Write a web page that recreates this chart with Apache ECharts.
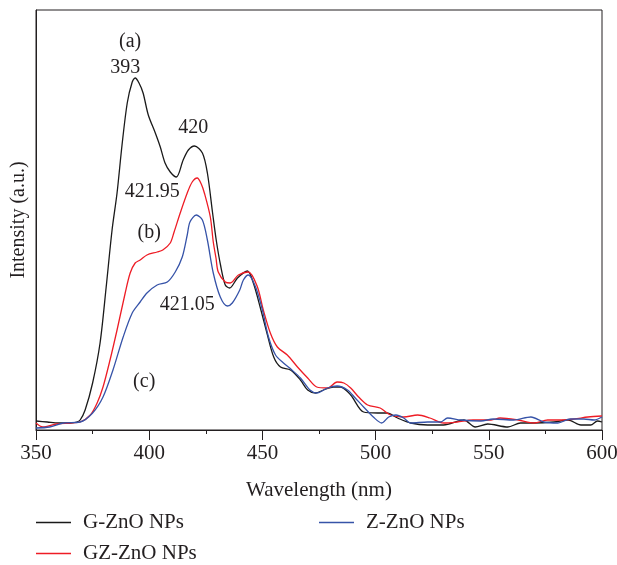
<!DOCTYPE html>
<html>
<head>
<meta charset="utf-8">
<script src="https://cdn.jsdelivr.net/npm/echarts@6/dist/echarts.min.js"></script>
<style>
html,body{margin:0;padding:0;background:#fff;}
#chart{width:617px;height:565px;}
</style>
</head>
<body>
<div id="chart"></div>
<script>
// ---- data ----
const gWave = [350,355,360,365,368,369.5,371.7,375,378.3,381,383.6,385.8,388,390.3,392.5,393.8,395.5,397.3,399.6,402.7,404.9,407,409.3,412,415,417.3,420,423.5,425.7,428,429.6,431.5,433.6,435.5,439,443.4,446,449,452,455,458,462.4,466.8,470,473.5,477,481.4,484.5,489,494.7,500.9,505,509.7,515.5,523,530,539,544,549.5,558.4,564,570,578.8,585,590.7,595,598,600];
const gInt  = [9,8,7,7,8,10,20,47,87,143,200,237,285,327,348,352,347,337,315,297,283,267,258,253,270,280,284,277,257,217,190,165,145,142,152,159,147,123,97,73,63,60,50,40,37,40,43,43,35,18,17,17,12,7,5,5,10,3,6,3,7,7,8,10,5,5,9,8];

const gzWave = [350,353,359,365,369.5,374,377,379.6,382.7,385.8,389.4,391.6,393.8,396,399,403.5,406,409.3,411,413.7,416.8,419,421.2,423,424.5,427,428.3,429.5,430.5,433.6,435.8,439.4,443.8,447.8,450.4,453.5,456.6,461,465.5,470,474,478.8,483,486,489,492.5,496.5,502,506.6,512.4,518.6,524,530,536,543,551,555,563,570,576,582,587.7,593.8,600];
const gzInt  = [7,3,6,7,8,15,27,43,70,100,137,157,167,170,175,178,180,187,198,217,237,248,252,246,236,213,188,172,158,148,147,155,158,143,120,97,83,75,63,52,43,42,48,47,42,33,25,22,15,13,15,12,7,8,10,10,12,10,7,10,10,11,13,14];

const zWave = [350,356,362,369.5,375,379.6,384,388.5,392.5,396,399,403.5,408,411.5,414.6,416.8,418,420.8,423.5,425.7,428.3,431.4,434.5,436.7,440,441.6,443.8,447,450,452.7,455.8,459.3,463,466.8,471,474,478.8,483,487.6,491,494.7,499,502.7,505.8,509,512.4,515.5,523,528.7,531.8,537.6,546.5,552,561,568.6,574.3,580.5,586,592,596.5,600];
const zInt  = [2,3,7,8,17,33,60,93,117,128,137,145,148,158,173,195,208,215,210,190,157,133,124,127,140,150,155,143,120,93,75,67,60,52,40,37,42,44,40,32,23,13,7,13,15,12,7,8,8,12,10,9,11,10,13,8,7,11,11,10,13];

const seriesNames = ['G-ZnO NPs', 'GZ-ZnO NPs', 'Z-ZnO NPs'];
const xTicks = [350, 400, 450, 500, 550, 600];

// annotation texts and their data positions (wavelength, intensity)
const annoText = ['(a)', '393', '420', '421.95', '(b)', '421.05', '(c)'];
const annoWave = [391.6, 389.4, 419.5, 401.3, 400, 416.8, 397.8];
const annoInt  = [388, 362, 302, 238, 197, 125, 48];

// ---- build ----
const zip = (a, b) => a.map((v, i) => [v, b[i]]);
const FONT = 'Liberation Serif';
const TXT = '#231f20';
const colors = ['#1a1a1a', '#ee1c25', '#3653a8'];

const chart = echarts.init(document.getElementById('chart'), null, {renderer: 'canvas'});

const lineSeries = (name, data, color) => ({
  name, type: 'line', data, symbol: 'none', smooth: 0.3,
  lineStyle: {color, width: 1.3}, itemStyle: {color}, z: 3
});

const legendItem = (name, left, top) => ({
  data: [name],
  orient: 'vertical', left, top, padding: 0, itemGap: 0,
  icon: 'rect', itemWidth: 35, itemHeight: 1.5,
  textStyle: {fontFamily: FONT, fontSize: 21, color: TXT, padding: [0, 0, 0, 7]}
});

chart.setOption({
  animation: false,
  backgroundColor: '#fff',
  textStyle: {fontFamily: FONT, color: TXT},
  grid: {left: 36, right: 15, top: 10, bottom: 135, outerBoundsMode: 'none', containLabel: false,
         show: true, borderColor: '#231f20', borderWidth: 1},
  xAxis: {
    type: 'value', min: xTicks[0], max: xTicks[xTicks.length - 1], interval: 50,
    name: 'Wavelength (nm)', nameLocation: 'middle', nameGap: 50,
    nameTextStyle: {fontFamily: FONT, fontSize: 21, color: TXT},
    axisLine: {lineStyle: {color: '#231f20', width: 1}},
    axisTick: {length: 10, lineStyle: {color: '#231f20'}},
    minorTick: {show: true, splitNumber: 2, length: 4, lineStyle: {color: '#231f20'}},
    splitLine: {show: false},
    axisLabel: {fontFamily: FONT, fontSize: 21, color: TXT, margin: 13}
  },
  yAxis: {
    type: 'value', min: 0, max: 420,
    name: 'Intensity (a.u.)', nameLocation: 'middle', nameGap: 7,
    nameTextStyle: {fontFamily: FONT, fontSize: 20, color: TXT},
    axisLine: {show: true, lineStyle: {color: '#231f20', width: 1}},
    axisTick: {show: false}, axisLabel: {show: false}, splitLine: {show: false}
  },
  legend: [
    legendItem(seriesNames[0], 36, 512),
    legendItem(seriesNames[1], 36, 543),
    legendItem(seriesNames[2], 319, 512)
  ],
  series: [
    lineSeries(seriesNames[0], zip(gWave, gInt), colors[0]),
    lineSeries(seriesNames[1], zip(gzWave, gzInt), colors[1]),
    lineSeries(seriesNames[2], zip(zWave, zInt), colors[2]),
    {
      type: 'scatter', silent: true, symbolSize: 0, z: 5,
      itemStyle: {opacity: 1, color: TXT},
      data: annoText.map((t, i) => ({value: [annoWave[i], annoInt[i]], name: t})),
      label: {
        show: true, position: [0, 0], align: 'center', verticalAlign: 'middle', opacity: 1,
        formatter: p => p.name, fontFamily: FONT, fontSize: 20, color: TXT
      },
      emphasis: {disabled: true}
    }
  ]
});
</script>
</body>
</html>
